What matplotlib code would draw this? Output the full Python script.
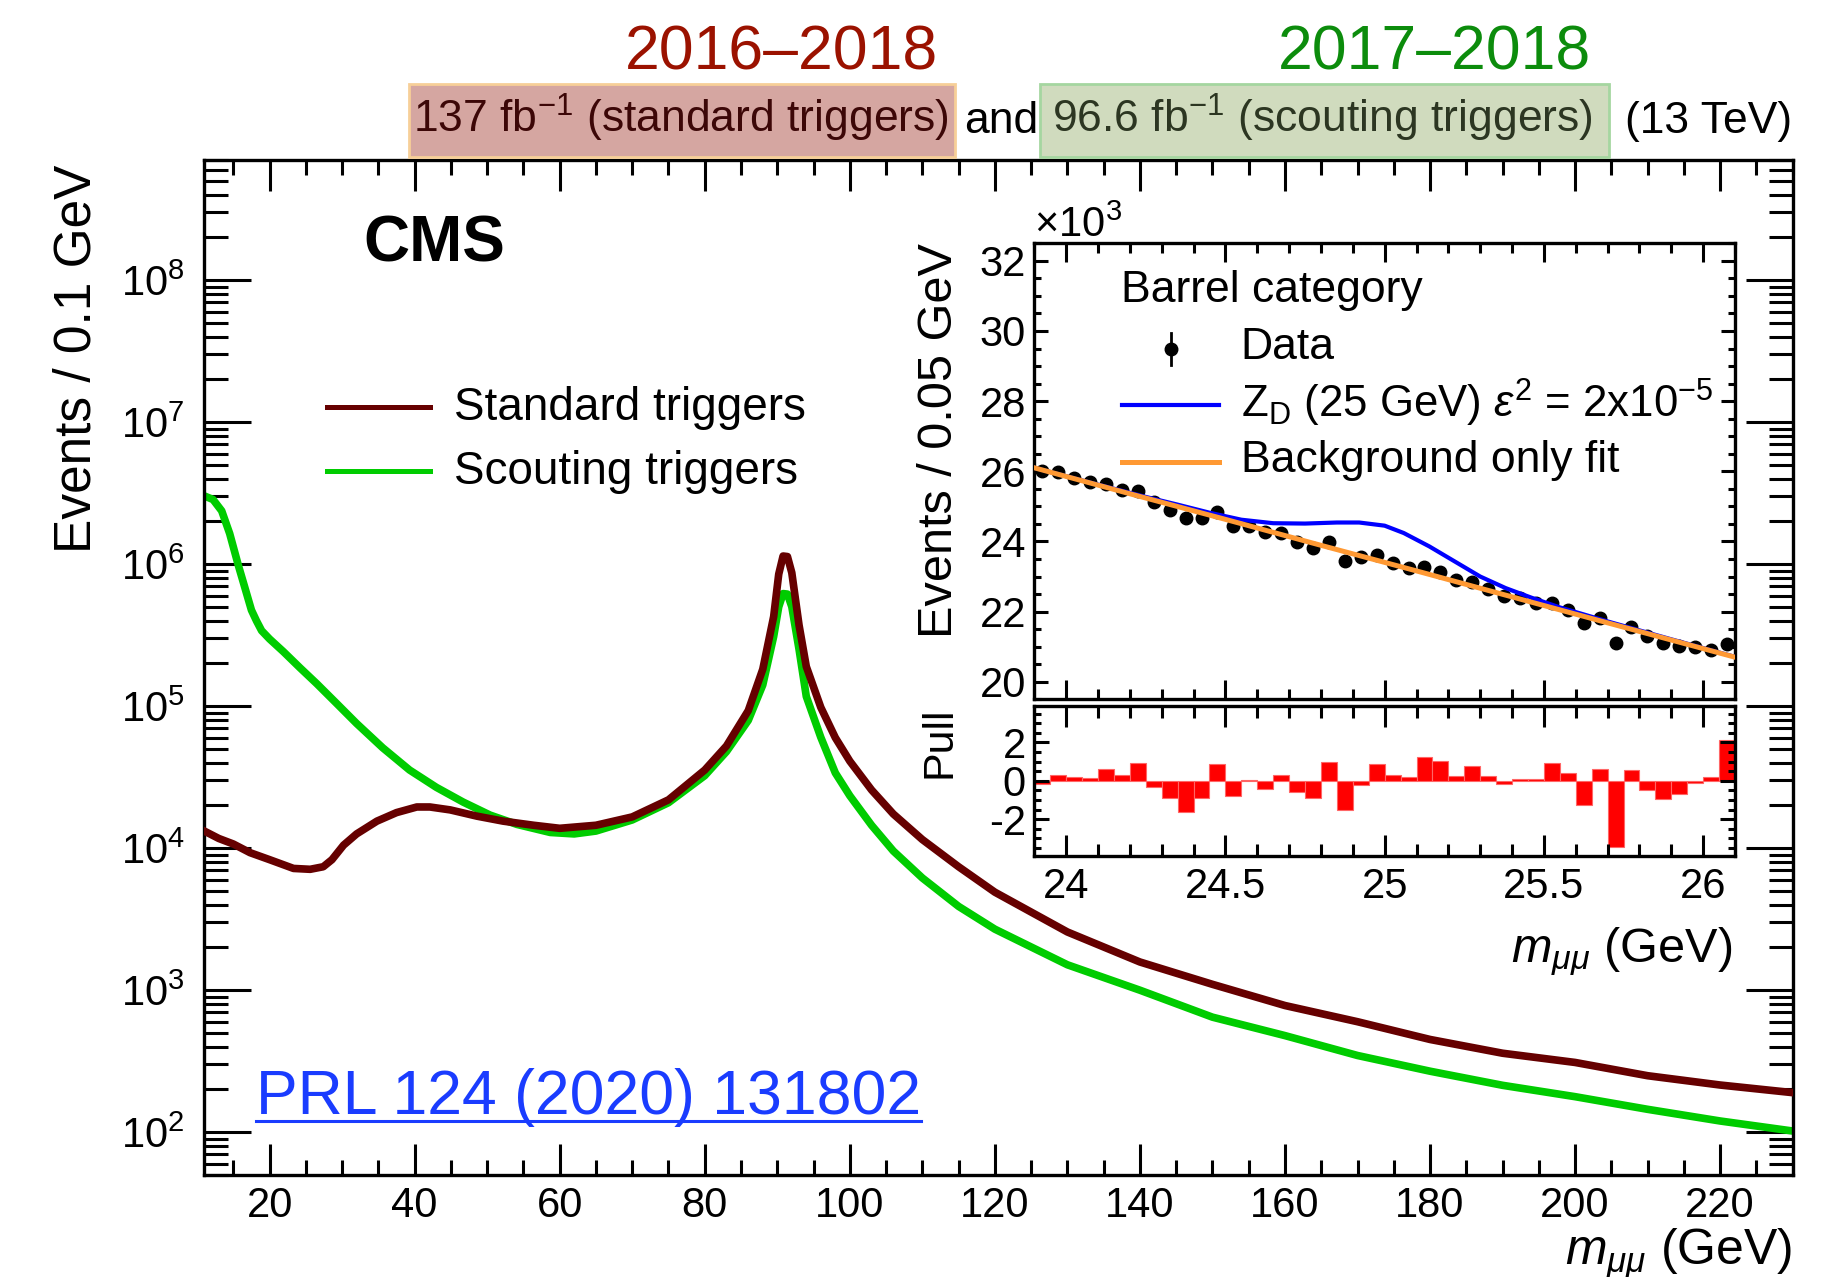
import matplotlib
matplotlib.use("Agg")
import matplotlib.pyplot as plt
from matplotlib.lines import Line2D
from matplotlib.patches import Rectangle
from matplotlib.ticker import (MultipleLocator, LogLocator, FixedLocator, NullFormatter,
                               FormatStrFormatter, LogFormatterSciNotation)

plt.rcParams['font.family'] = ['Liberation Sans', 'DejaVu Sans']
plt.rcParams['mathtext.fontset'] = 'custom'
plt.rcParams['mathtext.rm'] = 'Liberation Sans'
plt.rcParams['mathtext.it'] = 'Liberation Sans:italic'
plt.rcParams['mathtext.bf'] = 'Liberation Sans:bold'
plt.rcParams['axes.unicode_minus'] = True

# ---------------- data ----------------
# Dimuon mass spectrum, standard triggers (events / 0.1 GeV)
mass_std = [11, 13, 15, 17.3, 20, 23.3, 25.6, 27.4, 28.6, 30.2, 32, 34.8, 37.5, 40.3,
            42.1, 44.9, 48.6, 52.2, 56.4, 60, 65, 70, 75, 80, 83, 86, 88, 89.5, 90.2,
            90.8, 91.4, 92, 93, 94, 96, 98, 100, 103, 106, 110, 115, 120, 130, 140, 150,
            160, 170, 180, 190, 200, 210, 220, 230]
events_std = [13200, 11700, 10700, 9300, 8300, 7200, 7100, 7400, 8300, 10500, 12600,
              15500, 17800, 19500, 19500, 18600, 16800, 15500, 14500, 13800, 14500, 16600,
              21900, 35500, 52500, 93000, 182000, 427000, 850000, 1140000, 1130000,
              870000, 372000, 190000, 98000, 60000, 41000, 25700, 17400, 11500, 7400,
              4900, 2570, 1580, 1100, 780, 600, 450, 360, 310, 250, 215, 190]

# Dimuon mass spectrum, scouting triggers (events / 0.1 GeV)
mass_sct = [11, 12.2, 13.4, 14.5, 15.7, 16.6, 17.5, 18.2, 18.9, 20, 21.9, 24.2, 26.5,
            29.2, 32, 35.6, 39.3, 43, 46.7, 50.4, 54.1, 58.7, 62, 65, 70, 75, 80, 83, 86,
            88, 89.5, 90.2, 90.8, 91.4, 92, 93, 94, 96, 98, 100, 103, 106, 110, 115, 120,
            130, 140, 150, 160, 170, 180, 190, 200, 210, 220, 230]
events_sct = [3020000, 2850000, 2370000, 1640000, 977000, 681000, 474000, 398000, 340000,
              297000, 242000, 186000, 144000, 105000, 75500, 50900, 35500, 26800, 21100,
              17100, 14700, 12900, 12600, 13200, 15800, 20900, 32400, 47900, 79400,
              141000, 309000, 500000, 620000, 615000, 501000, 251000, 117000, 60300,
              33900, 23400, 14500, 9550, 6170, 3890, 2690, 1510, 1000, 646, 479, 347, 269,
              214, 178, 145, 120, 102]

# Barrel category, 0.05 GeV bins (events in units of 10^3)
bin_centers = [23.925, 23.975, 24.025, 24.075, 24.125, 24.175, 24.225, 24.275, 24.325,
               24.375, 24.425, 24.475, 24.525, 24.575, 24.625, 24.675, 24.725, 24.775,
               24.825, 24.875, 24.925, 24.975, 25.025, 25.075, 25.125, 25.175, 25.225,
               25.275, 25.325, 25.375, 25.425, 25.475, 25.525, 25.575, 25.625, 25.675,
               25.725, 25.775, 25.825, 25.875, 25.925, 25.975, 26.025, 26.075]
data_k = [26.01, 25.97, 25.82, 25.70, 25.65, 25.47, 25.45, 25.13, 24.91, 24.68, 24.67,
          24.83, 24.44, 24.45, 24.26, 24.25, 23.99, 23.82, 23.98, 23.44, 23.55, 23.60,
          23.39, 23.25, 23.28, 23.13, 22.89, 22.84, 22.64, 22.45, 22.38, 22.25, 22.25,
          22.05, 21.68, 21.83, 21.11, 21.57, 21.30, 21.11, 21.02, 20.98, 20.91, 21.07]
data_err = 0.155
pulls = [-0.18, 0.32, 0.19, 0.16, 0.63, 0.30, 0.95, -0.33, -0.91, -1.63, -0.88, 0.88,
         -0.79, 0.03, -0.40, 0.32, -0.58, -0.88, 0.98, -1.54, -0.23, 0.88, 0.30, 0.21,
         1.25, 1.04, 0.26, 0.77, 0.25, -0.19, 0.12, 0.12, 0.93, 0.42, -1.26, 0.60, -3.45,
         0.54, -0.46, -0.92, -0.68, -0.13, 0.18, 2.12]

# Background-only fit and signal hypothesis (units of 10^3)
fit_mass = [23.9, 24.2, 24.5, 24.8, 25.1, 25.4, 25.7, 26.1]
fit_bkg = [26.10, 25.36, 24.63, 23.89, 23.16, 22.42, 21.68, 20.70]
sig_mass = [23.9, 24.1, 24.25, 24.35, 24.45, 24.55, 24.65, 24.75, 24.85, 24.92, 25.0,
            25.06, 25.14, 25.22, 25.30, 25.38, 25.46, 25.55, 25.7, 25.9, 26.1]
sig_curve = [26.10, 25.62, 25.27, 25.05, 24.82, 24.62, 24.52, 24.51, 24.54, 24.54, 24.45,
             24.24, 23.86, 23.43, 23.00, 22.67, 22.40, 22.12, 21.72, 21.21, 20.71]

# y-axis decades labelled on the main panel
decades = [1e2, 1e3, 1e4, 1e5, 1e6, 1e7, 1e8]

# ---------------- layout helpers (pixel coordinates) ----------------
W, H = 1849, 1277
fig = plt.figure(figsize=(W / 100, H / 100), dpi=100)


def rect(l, t, r, b):
    return [l / W, 1 - b / H, (r - l) / W, (b - t) / H]


def fx(x):
    return x / W


def fy(y):
    return 1 - y / H


SPINE_W = 2.4

# ---------------- main panel ----------------
ax = fig.add_axes(rect(204.3, 160, 1792.7, 1175))
ax.plot(mass_std, events_std, color='#660000', lw=5.5, solid_joinstyle='round', zorder=3)
ax.plot(mass_sct, events_sct, color='#00cc00', lw=5.5, solid_joinstyle='round', zorder=2)
ax.set_yscale('log')
ax.set_xlim(11, 230)
ax.set_ylim(50, 7e8)
ax.xaxis.set_major_locator(MultipleLocator(20))
ax.xaxis.set_minor_locator(MultipleLocator(5))
ax.yaxis.set_major_locator(FixedLocator(decades))
ax.yaxis.set_major_formatter(LogFormatterSciNotation())
ax.yaxis.set_minor_locator(LogLocator(base=10, subs=range(2, 10), numticks=200))
ax.yaxis.set_minor_formatter(NullFormatter())
ax.tick_params(which='both', direction='in', top=True, right=True, width=2.2,
               labelsize=30)
ax.tick_params(axis='x', which='major', length=22, pad=8)
ax.tick_params(axis='x', which='minor', length=11)
ax.tick_params(axis='y', which='major', length=34, pad=14)
ax.tick_params(axis='y', which='minor', length=17)
for s in ax.spines.values():
    s.set_linewidth(SPINE_W)

fig.text(fx(77), fy(165), 'Events / 0.1 GeV', rotation=90, ha='center', va='top',
         fontsize=37)
fig.text(fx(1792.7), fy(1264), r'$m_{\mu\mu}$ (GeV)', ha='right', va='baseline',
         fontsize=36)

fig.text(fx(363), fy(261.5), 'CMS', fontweight='bold', fontsize=46, va='baseline')

# main legend
fig.add_artist(Line2D([fx(327), fx(430)], [fy(407.4)] * 2, color='#660000', lw=3.6))
fig.add_artist(Line2D([fx(327), fx(430)], [fy(471.3)] * 2, color='#00cc00', lw=3.6))
fig.text(fx(454), fy(419.5), 'Standard triggers', fontsize=33, va='baseline')
fig.text(fx(454), fy(483.5), 'Scouting triggers', fontsize=33, va='baseline')

prl = fig.text(fx(256), fy(1114), 'PRL 124 (2020) 131802', color='#1a3cff', fontsize=45,
               va='baseline')

# header
fig.add_artist(Rectangle((fx(409), fy(156.7)), (955 - 409) / W, (156.7 - 84.3) / H,
                         transform=fig.transFigure, facecolor='#d5a6a1',
                         edgecolor='#f7cf98', lw=2))
fig.add_artist(Rectangle((fx(1040), fy(156.7)), (1608.5 - 1040) / W, (156.7 - 84.3) / H,
                         transform=fig.transFigure, facecolor='#d0dbbe',
                         edgecolor='#a5d6a0', lw=2))
fig.text(fx(412.7), fy(132.7), '137 fb$^{-1}$ (standard triggers)', color='#3c0707',
         fontsize=32, va='baseline')
fig.text(fx(964.6), fy(132.7), 'and', color='black', fontsize=32, va='baseline')
fig.text(fx(1052), fy(132.7), '96.6 fb$^{-1}$ (scouting triggers)', color='#2c3622',
         fontsize=32, va='baseline')
fig.text(fx(1792.5), fy(132.7), '(13 TeV)', color='black', fontsize=32, va='baseline',
         ha='right')
fig.text(fx(782), fy(69), '2016\u20132018', color='#9b1200', fontsize=45, ha='center',
         va='baseline')
fig.text(fx(1434.5), fy(69), '2017\u20132018', color='#0c8c0c', fontsize=45, ha='center',
         va='baseline')

# ---------------- inset: barrel category ----------------
axi = fig.add_axes(rect(1034.3, 243.3, 1735, 699.3))
axi.errorbar(bin_centers, data_k, yerr=data_err, fmt='o', color='black', ms=9,
             elinewidth=2, capsize=0, zorder=2)
axi.plot(sig_mass, sig_curve, color='#0000ff', lw=3, zorder=3)
axi.plot(fit_mass, fit_bkg, color='#ff9933', lw=3.6, zorder=4)
axi.set_xlim(23.9, 26.1)
axi.set_ylim(19.5, 32.5)
axi.xaxis.set_major_locator(MultipleLocator(0.5))
axi.xaxis.set_minor_locator(MultipleLocator(0.1))
axi.yaxis.set_major_locator(MultipleLocator(2))
axi.yaxis.set_minor_locator(MultipleLocator(0.5))
axi.tick_params(which='both', direction='in', top=True, right=True, width=2.2,
                labelsize=30, labelbottom=False)
axi.tick_params(axis='x', which='major', length=14)
axi.tick_params(axis='x', which='minor', length=7)
axi.tick_params(axis='y', which='major', length=10, pad=6)
axi.tick_params(axis='y', which='minor', length=5)
axi.yaxis.set_major_formatter(FormatStrFormatter('%g'))
for s in axi.spines.values():
    s.set_linewidth(SPINE_W)

fig.text(fx(1034), fy(237), '\u00d710$^{3}$', fontsize=30, va='baseline')
fig.text(fx(940), fy(243), 'Events / 0.05 GeV', rotation=90, ha='center', va='top',
         fontsize=35)
fig.text(fx(1121.4), fy(301.5), 'Barrel category', fontsize=32, va='baseline')

# inset legend
fig.add_artist(Line2D([fx(1171)], [fy(349)], marker='o', color='black', ms=9, lw=0))
fig.add_artist(Line2D([fx(1171), fx(1171)], [fy(332.7), fy(365)], color='black', lw=2))
fig.text(fx(1240.8), fy(359.3), 'Data', fontsize=32, va='baseline')
fig.add_artist(Line2D([fx(1122), fx(1219)], [fy(405)] * 2, color='#0000ff', lw=3))
fig.text(fx(1240.8), fy(418), r'Z$_{\mathrm{D}}$ (25 GeV) $\varepsilon^{2}$ = 2x10$^{-5}$',
         fontsize=31.5, va='baseline')
fig.add_artist(Line2D([fx(1122), fx(1219)], [fy(461.7)] * 2, color='#ff9933', lw=3.6))
fig.text(fx(1240.8), fy(471.7), 'Background only fit', fontsize=32, va='baseline')

# ---------------- inset: pulls ----------------
axp = fig.add_axes(rect(1034.3, 706, 1735, 855.7))
axp.bar(bin_centers, pulls, width=0.05, color='#ff0000', edgecolor='#ff6666', lw=0.8)
axp.set_xlim(23.9, 26.1)
axp.set_ylim(-3.9, 3.9)
axp.xaxis.set_major_locator(MultipleLocator(0.5))
axp.xaxis.set_minor_locator(MultipleLocator(0.1))
axp.yaxis.set_major_locator(MultipleLocator(2))
axp.yaxis.set_minor_locator(MultipleLocator(0.5))
axp.xaxis.set_major_formatter(FormatStrFormatter('%g'))
axp.yaxis.set_major_formatter(FormatStrFormatter('%g'))
axp.tick_params(which='both', direction='in', top=True, right=True, width=2.2,
                labelsize=30)
axp.tick_params(axis='x', which='major', length=15, pad=8)
axp.tick_params(axis='x', which='minor', length=8.5)
axp.tick_params(axis='y', which='major', length=10.5, pad=6)
axp.tick_params(axis='y', which='minor', length=5)
for s in axp.spines.values():
    s.set_linewidth(SPINE_W)

fig.text(fx(940), fy(706), 'Pull', rotation=90, ha='center', va='top', fontsize=31)
fig.text(fx(1732), fy(961.7), r'$m_{\mu\mu}$ (GeV)', ha='right', va='baseline',
         fontsize=35)

# underline for the publication reference
fig.canvas.draw()
bb = prl.get_window_extent().transformed(fig.transFigure.inverted())
fig.add_artist(Line2D([bb.x0, bb.x1], [fy(1121)] * 2, color='#1a3cff', lw=2.2))

fig.savefig('out.png', dpi=100)
